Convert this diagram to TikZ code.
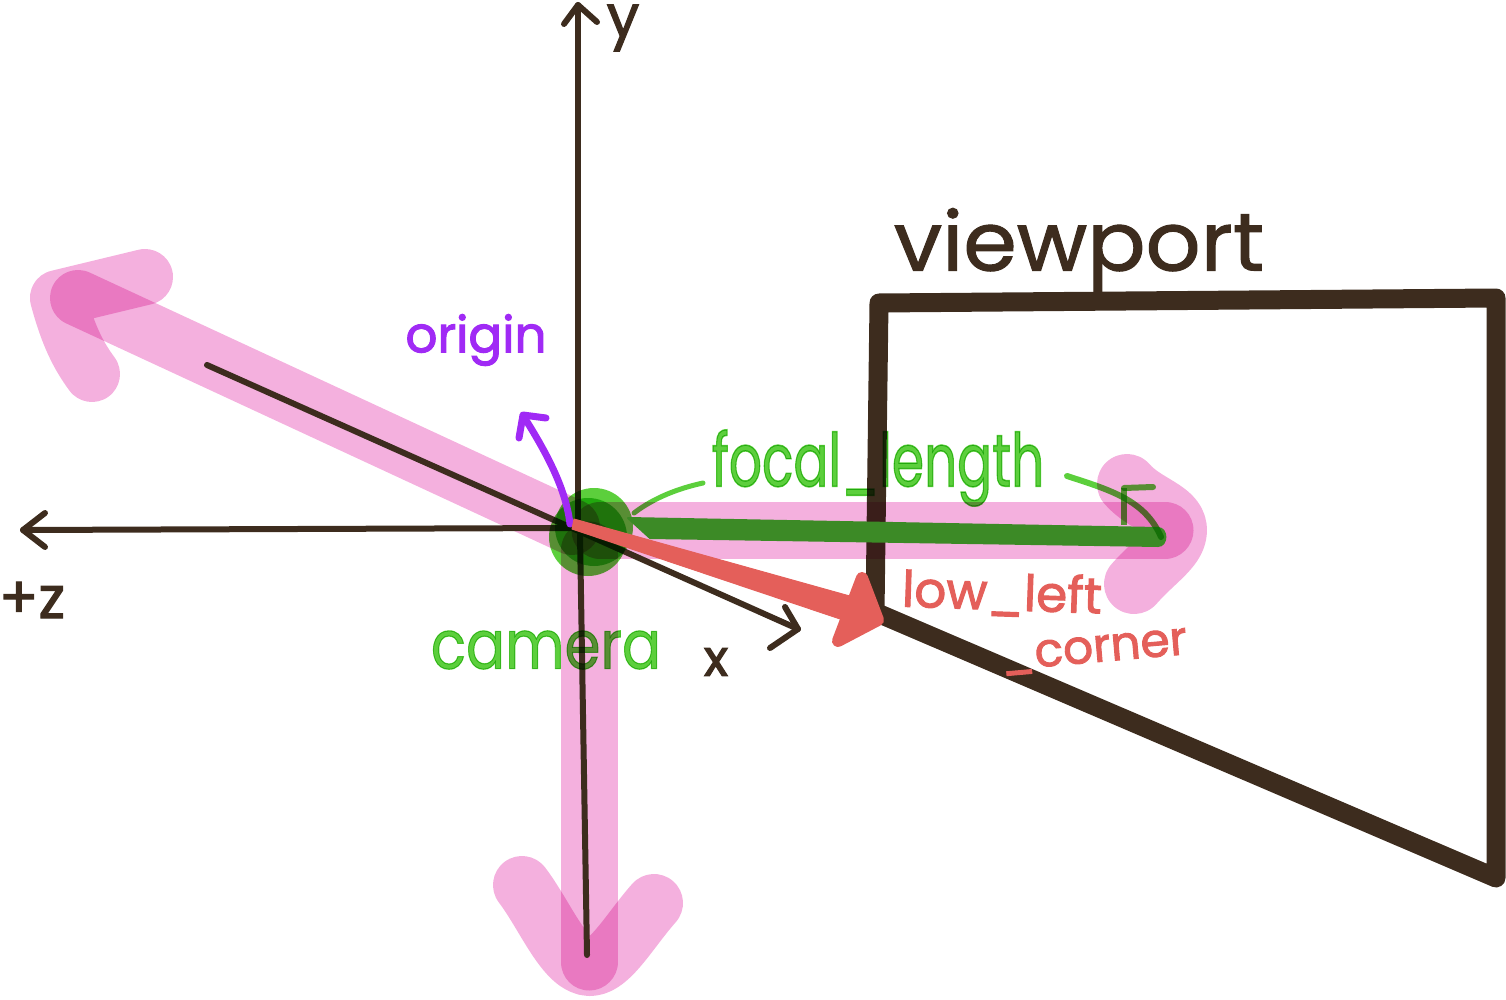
\documentclass[tikz,border=0pt]{standalone}
\usepackage{graphicx}
\usepackage{fontspec}
\setmainfont{Poppins}
\definecolor{ink}{HTML}{3D2C1E}
\definecolor{pk}{HTML}{F4B0DE}
\definecolor{grn}{HTML}{5CCF3C}
\definecolor{dgrn}{HTML}{3C8A26}
\definecolor{redd}{HTML}{E45F5A}
\definecolor{purp}{HTML}{A02AF5}
\newcommand{\hand}[2]{\fontsize{#2}{#2}\selectfont\addfontfeature{FakeBold=#1}}
\tikzset{
  pinkstroke/.style={draw=pk,line width=#1,line cap=round,line join=round,blend mode=multiply},
  axisline/.style={draw=ink,line width=6pt,line cap=round,line join=round},
  frameline/.style={draw=ink,line width=19pt,line join=round,line cap=round},
  greenstroke/.style={draw=grn,line width=6pt,line cap=round,line join=round,blend mode=multiply},
  lbl/.style={inner sep=0pt,outer sep=0pt,anchor=center},
}
\begin{document}
\begin{tikzpicture}[x=1pt,y=-1pt]
\useasboundingbox (0,0) rectangle (1506,1000);
\coordinate (O) at (572,527);
% viewport
\draw[frameline] (879,303) -- (875,612) -- (1496,878) -- (1496,298) -- cycle;
% pink arrows
\draw[pinkstroke=56pt] (O) -- (78,298);
\draw[pinkstroke=56pt] (145,277) -- (58,298) .. controls (68,335) and (78,355) .. (92,374);
\draw[pinkstroke=57pt] (600,530) -- (1165,530);
\draw[pinkstroke=60pt] (1127,484) .. controls (1145,505) and (1177,510) .. (1177,530) .. controls (1177,548) and (1155,560) .. (1134,584);
\draw[pinkstroke=57pt] (589,550) -- (589,962);
\draw[pinkstroke=58pt] (522,885) .. controls (545,915) and (565,967) .. (590,967) .. controls (610,967) and (630,930) .. (654,903);
% axes
\draw[axisline] (578,525) -- (578,5);
\draw[axisline] (564,24) -- (578,5) -- (597,22);
\draw[axisline] (570,528) -- (23,530);
\draw[axisline] (45,513) -- (23,530) -- (45,547);
\draw[axisline] (207,365) -- (798,629);
\draw[axisline] (785,607) -- (798,629) -- (770,648);
\draw[axisline] (580,535) -- (587,955);
% camera
\fill[grn,blend mode=multiply] (594,527) circle (39pt);
\fill[grn,blend mode=multiply] (588,537) circle (39pt);
% focal length arrow
\fill[dgrn,draw=dgrn,line width=2pt,line join=round] (628,518) -- (1158,528) to[out=0,in=0,looseness=1.4] (1158,546) -- (650,538) -- cycle;
\draw[greenstroke,line width=5pt] (634,513) .. controls (655,497) and (680,488) .. (703,483);
\draw[greenstroke,line width=6pt] (1067,476) .. controls (1110,490) and (1145,500) .. (1161,537);
\draw[greenstroke,line width=6pt,line cap=butt] (1124,525) -- (1124,488);
\draw[greenstroke,line width=6pt] (1124,488) -- (1153,487);
% purple arrow
\draw[draw=purp,line width=7pt,line cap=round,line join=round] (570,524) .. controls (566,490) and (548,455) .. (524,417);
\draw[draw=purp,line width=7pt,line cap=round,line join=round] (519,438) -- (523,415) -- (546,418);
% red arrow
\fill[redd,draw=redd,line width=1pt,line join=round] (574,519) -- (864,600) -- (858,625) -- (572,529) -- cycle;
\fill[redd,draw=redd,line width=12pt,line join=round] (862,578) -- (878,620) -- (838,641) -- cycle;
% labels
\node[lbl,text=ink,font=\hand{1.2}{82}] (vp) at (1079,250) {\scalebox{1.05}[1]{viewport}};
\node[lbl,text=purp,font=\hand{2.2}{50}] (orig) at (476,340) {origin};
\node[lbl,text=grn,font=\hand{2}{74},blend mode=multiply] (fl) at (878,468) {\scalebox{.7}[1]{focal\_length}};
\node[lbl,text=grn,font=\hand{1.6}{68},blend mode=multiply] (cam) at (546,650) {\scalebox{.85}[1]{camera}};
\node[lbl,text=redd,font=\hand{2}{50},rotate=-2] (ll) at (1002,594) {low\_left};
\node[lbl,text=redd,font=\hand{2}{47},rotate=5] (cor) at (1094,652) {\_corner};
\node[lbl,text=ink,font=\hand{2}{58}] (zl) at (32,600) {+z};
\node[lbl,text=ink,font=\hand{2}{58}] (yl) at (623,28) {y};
\node[lbl,text=ink,font=\hand{2.5}{50}] (xl) at (716,662) {x};
\end{tikzpicture}
\end{document}
